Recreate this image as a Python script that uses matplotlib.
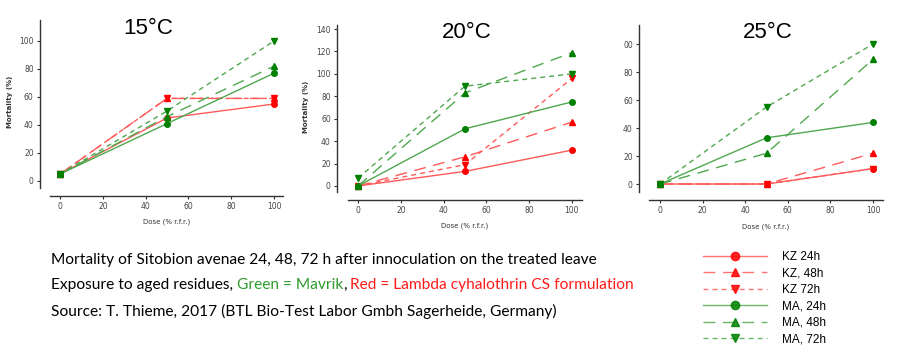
"""
Mortalidad de Sitobion avenae sobre hojas tratadas (residuos envejecidos)
Tres paneles por temperatura: 15, 20 y 25 °C.
"""

import matplotlib
matplotlib.use('Agg')
import matplotlib.pyplot as plt
from matplotlib.lines import Line2D

# ------------------------------------------------------------
# DATOS
# ------------------------------------------------------------
dose = [0, 50, 100]

temps = ['15°C', '20°C', '25°C']

# KZ = lambda cihalotrina CS (rojo), MA = Mavrik (verde)
kz_24 = [[5, 45, 55], [0, 13, 32], [0, 0, 11]]
kz_48 = [[5, 59, 59], [0, 26, 57], [0, 0, 22]]
kz_72 = [[5, 59, 59], [0, 19, 96], [0, 0, 11]]
ma_24 = [[5, 41, 77], [0, 51, 75], [0, 33, 44]]
ma_48 = [[5, 46, 82], [0, 83, 119], [0, 22, 89]]
ma_72 = [[5, 50, 100], [7, 89, 100], [0, 55, 100]]

yticks = [[0, 20, 40, 60, 80, 100],
          [0, 20, 40, 60, 80, 100, 120, 140],
          [0, 20, 40, 60, 80, 100]]
ytick_labels = [['0', '20', '40', '60', '80', '100'],
                ['0', '20', '40', '60', '80', '100', '120', '140'],
                ['0', '20', '40', '60', '80', '00']]
xticks = [0, 20, 40, 60, 80, 100]

legend_labels = ['KZ 24h', 'KZ, 48h', 'KZ 72h', 'MA, 24h', 'MA, 48h', 'MA, 72h']

# ------------------------------------------------------------
# ESTILO
# ------------------------------------------------------------
W, H = 902, 356
RED_L, RED_M = '#ff5a5a', '#ff0000'
GRN_L, GRN_M = '#4fa84f', '#008000'
TXT_GREEN = '#2e9a2e'
TXT_RED = '#ff1a1a'

LS_24 = '-'
LS_48 = (0, (8.5, 5.5))
LS_72 = (0, (3.6, 2.9))

series = [
    (kz_24, RED_L, RED_M, LS_24, 'o'),
    (kz_48, RED_L, RED_M, LS_48, '^'),
    (kz_72, RED_L, RED_M, LS_72, 'v'),
    (ma_24, GRN_L, GRN_M, LS_24, 'o'),
    (ma_48, GRN_L, GRN_M, LS_48, '^'),
    (ma_72, GRN_L, GRN_M, LS_72, 'v'),
]

# caja de ejes en píxeles: (izq, arriba, der, abajo), límites y desplazamiento de ejes
boxes = [(50, 20, 283, 188), (348, 25, 582, 192), (649, 25, 883, 192)]
xlims = [(-4.7, 104.2), (-4.7, 104.7), (-5.2, 104.7)]
ylims = [(-5, 115), (-5.4, 143.6), (-5.7, 113.6)]
offsets = [(10, 7.5), (11, 8), (10, 8)]   # (izquierda, abajo) en px
title_pos = [(148, 28), (467, 33), (768, 33)]
xlabel_y = [222, 226, 227]
ylabel_x = [10, 306, None]

fig = plt.figure(figsize=(W / 100, H / 100), dpi=100)
fig.patch.set_facecolor('white')

for i in range(3):
    l, t, r, b = boxes[i]
    ax = fig.add_axes([l / W, (H - b) / H, (r - l) / W, (b - t) / H])
    ax.patch.set_alpha(0)

    for data, lc, mc, ls, mk in series:
        ax.plot(dose, data[i], color=lc, linestyle=ls, linewidth=1.0,
                marker=mk, markersize=4, markerfacecolor=mc,
                markeredgecolor=mc, clip_on=False)

    ax.set_xlim(*xlims[i])
    ax.set_ylim(*ylims[i])
    ax.set_xticks(xticks)
    ax.set_yticks(yticks[i])
    ax.set_yticklabels(ytick_labels[i])

    for s in ('top', 'right'):
        ax.spines[s].set_visible(False)
    ax.spines['left'].set_position(('outward', offsets[i][0] * 0.72))
    ax.spines['bottom'].set_position(('outward', offsets[i][1] * 0.72))
    for s in ('left', 'bottom'):
        ax.spines[s].set_color('#333333')
        ax.spines[s].set_linewidth(1.0)
    ax.tick_params(axis='both', length=2.5, width=0.8, color='#333333',
                   labelsize=5.5, labelcolor='#444444', pad=2)

    fig.text(title_pos[i][0] / W, 1 - title_pos[i][1] / H, temps[i],
             ha='center', va='center', fontsize=16, family='Liberation Sans')
    fig.text(((l + r) / 2) / W, 1 - xlabel_y[i] / H, 'Dose (% r.f.r.)',
             ha='center', va='center', fontsize=5, color='#333333')
    if ylabel_x[i] is not None:
        fig.text(ylabel_x[i] / W, 1 - ((t + b) / 2 - 2) / H, 'Mortality (%)',
                 ha='center', va='center', rotation=90, fontsize=5,
                 fontweight='bold', color='#333333')

# ------------------------------------------------------------
# TEXTO AL PIE
# ------------------------------------------------------------
cap = dict(fontsize=11.2, family='Lato', va='center', ha='left')
fig.text(51 / W, 1 - 260 / H,
         'Mortality of Sitobion avenae 24, 48, 72 h after innoculation on the treated leave',
         **cap)
t1 = fig.text(51 / W, 1 - 285 / H, 'Exposure to aged residues,', **cap)
t2 = fig.text(0, 0, 'Green = Mavrik', color=TXT_GREEN, **cap)
t3 = fig.text(0, 0, ',', **cap)
t4 = fig.text(0, 0, 'Red = Lambda cyhalothrin CS formulation', color=TXT_RED, **cap)
fig.text(51 / W, 1 - 311 / H,
         'Source: T. Thieme, 2017 (BTL Bio-Test Labor Gmbh Sagerheide, Germany)',
         **cap)

# encadenar los fragmentos de colores
fig.canvas.draw()
rend = fig.canvas.get_renderer()
x_px = t1.get_window_extent(rend).x1 + 3.5
t2.set_position((x_px / W, 1 - 285 / H))
x_px = t2.get_window_extent(rend).x1 + 0.5
t3.set_position((x_px / W, 1 - 285 / H))
x_px = t3.get_window_extent(rend).x1 + 3.5
t4.set_position((x_px / W, 1 - 285 / H))

# ------------------------------------------------------------
# LEYENDA
# ------------------------------------------------------------
handles = []
for data, lc, mc, ls, mk in series:
    handles.append(Line2D([0], [0], color=lc, linestyle=ls, linewidth=1.0,
                          alpha=0.85, marker=mk, markersize=6,
                          markerfacecolor=mc, markeredgecolor=mc))

fig.legend(handles, legend_labels, loc='upper left',
           bbox_to_anchor=(703 / W, 1 - 251 / H),
           frameon=False, prop={'family': 'Liberation Sans', 'size': 8.5},
           handlelength=5.4, handletextpad=1.3, labelspacing=0.38,
           borderpad=0, borderaxespad=0, numpoints=1)

fig.savefig('out.png', dpi=100, facecolor='white')
